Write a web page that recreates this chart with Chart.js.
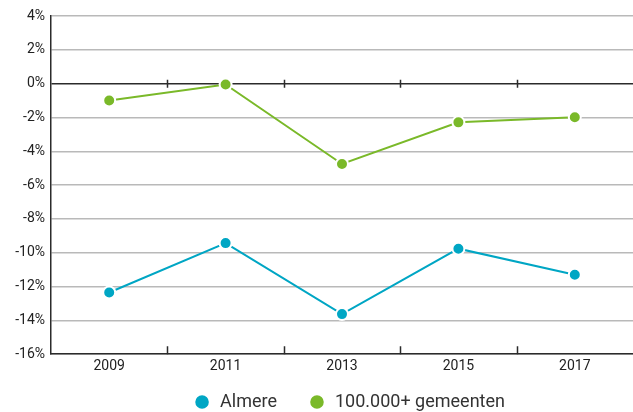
<!DOCTYPE html>
<html lang="nl">
<head>
  <meta charset="UTF-8" />
  <title>Almere vs 100.000+ gemeenten</title>
  <script src="https://cdn.jsdelivr.net/npm/chart.js"></script>
  <style>
    html, body { margin: 0; padding: 0; background: #fff; overflow: hidden; }
    #wrap { width: 633px; height: 412px; }
    canvas { display: block; }
  </style>
</head>
<body>
  <div id="wrap"><canvas id="chart" width="633" height="412"></canvas></div>

  <script>
    const years = ['2009', '2011', '2013', '2015', '2017'];
    const almere = [-12.35, -9.43, -13.63, -9.76, -11.3];
    const gemeenten = [-1.0, -0.05, -4.75, -2.29, -1.99];
    const yTicks = [4, 2, 0, -2, -4, -6, -8, -10, -12, -14, -16];

    const blue = '#00a6c4';
    const green = '#7ab929';
    const axisDark = '#2b2b2b';

    // little tick marks between the categories, on the 0% line and on the bottom axis
    const midTicks = {
      id: 'midTicks',
      afterDraw(chart) {
        const { ctx, scales: { x, y }, chartArea } = chart;
        const y0 = y.getPixelForValue(0);
        ctx.save();
        ctx.strokeStyle = axisDark;
        ctx.lineWidth = 1.5;
        for (let i = 0; i < years.length - 1; i++) {
          const px = Math.round((x.getPixelForValue(i) + x.getPixelForValue(i + 1)) / 2) + 0.5;
          ctx.beginPath();
          ctx.moveTo(px, y0 - 4);
          ctx.lineTo(px, y0 + 4);
          ctx.moveTo(px, chartArea.bottom - 8);
          ctx.lineTo(px, chartArea.bottom);
          ctx.stroke();
        }
        ctx.restore();
      }
    };

    // pull the legend row up closer to the axis labels
    const legendShift = {
      id: 'legendShift',
      beforeInit(chart) {
        const lg = chart.legend;
        const draw = lg.draw;
        lg.draw = function () {
          this.ctx.save();
          this.ctx.translate(7, -17);
          draw.apply(this, arguments);
          this.ctx.restore();
        };
      }
    };

    new Chart(document.getElementById('chart'), {
      type: 'line',
      data: {
        labels: years,
        datasets: [
          {
            label: 'Almere',
            data: almere,
            borderColor: blue,
            backgroundColor: blue,
            pointBackgroundColor: blue,
            pointBorderColor: '#fff',
            pointBorderWidth: 2,
            pointRadius: 6,
            borderWidth: 2,
            tension: 0
          },
          {
            label: '100.000+ gemeenten',
            data: gemeenten,
            borderColor: green,
            backgroundColor: green,
            pointBackgroundColor: green,
            pointBorderColor: '#fff',
            pointBorderWidth: 2,
            pointRadius: 6,
            borderWidth: 2,
            tension: 0
          }
        ]
      },
      options: {
        responsive: false,
        animation: false,
        layout: { autoPadding: false, padding: { top: 16, right: 0, left: 0, bottom: -26 } },
        plugins: {
          tooltip: { enabled: false },
          legend: {
            position: 'bottom',
            fullSize: false,
            labels: {
              usePointStyle: true,
              pointStyle: 'circle',
              boxWidth: 18,
              boxHeight: 11,
              padding: 31,
              color: '#333',
              font: { family: 'Roboto', size: 18 }
            }
          }
        },
        scales: {
          x: {
            offset: true,
            grid: { display: false, drawTicks: false },
            border: { color: axisDark, width: 1.5 },
            ticks: {
              color: '#222',
              padding: 4,
              font: { family: 'Roboto', size: 14 }
            }
          },
          y: {
            min: -16,
            max: 4,
            afterFit(scale) { scale.width = 51; },
            afterBuildTicks(scale) { scale.ticks = yTicks.map(v => ({ value: v })); },
            grid: {
              drawTicks: false,
              lineWidth: 1.5,
              color: ctx => (ctx.tick && ctx.tick.value === 0) ? axisDark : '#b9b9b9'
            },
            border: { color: axisDark, width: 1.5 },
            ticks: {
              color: '#222',
              padding: 6,
              font: { family: 'Roboto', size: 14 },
              callback: v => v + '%'
            }
          }
        }
      },
      plugins: [midTicks, legendShift]
    });
  </script>
</body>
</html>
